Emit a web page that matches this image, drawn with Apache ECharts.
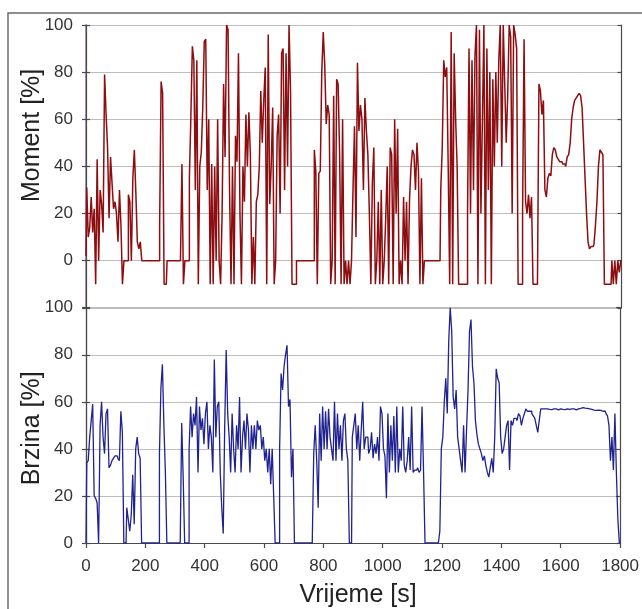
<!DOCTYPE html>
<html>
<head>
<meta charset="utf-8">
<script src="https://cdn.jsdelivr.net/npm/echarts@6/dist/echarts.min.js"></script>
<style>
html,body{margin:0;padding:0;background:#fff;}
#chart{width:642px;height:609px;}
</style>
</head>
<body>
<div id="chart"></div>
<script>
// Sampling interval of the recorded signals (seconds)
const SAMPLE_SECONDS = 5;
const xTicks = [0, 200, 400, 600, 800, 1000, 1200, 1400, 1600, 1800];
const yTicks = [0, 20, 40, 60, 80, 100];

// Moment [%] sampled every 5 s, t = 0 .. 1800
const momentVals = [
  2, 31, 10, 14, 27, 12, 22, -10, 43, 0,
  30, 24, 12, 79, 62, 48, 18, 44, 33, 22,
  25, 20, 8, 30, 15, -10, 0, 0, 0, 28,
  25, 0, 35, 47, 29, 8, 5, 8, 0, 0,
  0, 0, 0, 0, 0, 0, 0, 0, 0, 0,
  15, 76, 71, -10, -10, 0, 0, 0, 0, 0,
  0, 0, 0, 0, 0, 41, -10, 0, 0, 0,
  35, 61, 91, 85, 30, 85, -10, 40, 46, 65,
  93, 94, 30, 60, -10, 41, -10, 40, 0, 60,
  0, -10, 20, 75, 44, 100, 98, 30, -10, 40,
  -10, 53, 42, 88, 20, -10, 40, 25, 62, 40,
  63, 45, -10, 10, -10, 25, 28, 40, 72, 50,
  68, 82, -10, 96, 24, 40, 65, -10, 0, 53,
  62, 20, 88, 90, 30, 88, 40, 100, 72, -10,
  -10, -10, 0, 0, 0, 0, 0, 0, 0, 0,
  0, 0, 0, 0, 47, 38, -10, 37, 38, 80,
  97, 83, 58, 66, 62, -10, 0, 70, -10, 77,
  75, 45, -10, 60, -10, 0, -10, 0, -10, 0,
  30, 57, 10, 84, 55, 66, 60, 30, 69, 55,
  45, 20, -10, 33, 48, -10, 0, 25, -10, 30,
  -10, 0, 18, 40, -10, 48, 45, -10, 60, 20,
  56, -10, 0, -10, 27, 0, 25, -10, 26, 40,
  47, 45, 30, 50, 38, -10, 35, -10, 0, 0,
  0, 0, 0, 0, 0, 0, 0, 0, 0, 30,
  48, 85, 78, 82, 40, -10, 97, -10, 88, 60,
  40, -10, -10, -10, -10, -10, -10, 20, 90, 20,
  85, 30, 87, 100, -10, 98, 20, 60, 100, -10,
  90, 30, 80, -10, 77, 40, 80, 50, 85, 100,
  40, 100, 75, 50, 70, 100, 95, 20, 100, 96,
  90, -10, -10, -10, 20, 94, 25, 20, 28, 18,
  27, -10, -10, -10, -10, 75, 72, 62, 68, 30,
  27, 35, 37, 36, 45, 48, 47, 44, 43, 42,
  42, 41, 41, 40, 44, 45, 50, 60, 65, 68,
  69, 70, 71, 70, 65, 50, 35, 20, 8, 5,
  6, 6, 7, 15, 25, 40, 47, 46, 45, -10,
  -10, -10, -10, -10, 0, -10, 0, -10, 0, -5,
  0
];

// Brzina [%] sampled every 5 s, t = 0 .. 1800
const brzinaVals = [
  0, 34, 35, 45, 52, 59, 20, 19, 17, 0,
  50, 60, 45, 38, 55, 57, 32, 33, 35, 36,
  37, 37, 36, 35, 56, 47, 0, 0, 15, 10,
  5, 12, 29, 8, 40, 45, 38, 36, 0, 0,
  0, 0, 0, 0, 0, 0, 0, 0, 0, 0,
  38, 66, 76, 50, 30, 0, 0, 0, 0, 0,
  0, 0, 0, 0, 0, 51, 28, 0, 0, 0,
  40, 58, 45, 55, 50, 62, 30, 58, 48, 53,
  42, 55, 60, 40, 50, 45, 30, 78, 45, 58,
  60, 30, 15, 4, 50, 82, 55, 45, 30, 55,
  40, 30, 50, 40, 62, 30, 45, 52, 40, 55,
  48, 30, 50, 40, 50, 40, 52, 48, 50, 40,
  45, 35, 40, 30, 40, 25, 40, 20, 0, 0,
  0, 40, 72, 65, 75, 80, 84, 58, 61, 28,
  40, 0, 0, 0, 0, 0, 0, 0, 0, 0,
  0, 0, 0, 0, 38, 50, 35, 15, 55, 35,
  58, 40, 56, 40, 57, 45, 40, 35, 60, 35,
  55, 40, 50, 35, 52, 55, 40, 35, 0, 0,
  45, 50, 55, 40, 50, 35, 48, 60, 40, 45,
  45, 38, 40, 47, 36, 42, 38, 45, 35, 58,
  55, 40, 37, 19, 55, 30, 50, 35, 54, 30,
  58, 30, 40, 35, 58, 33, 30, 35, 45, 31,
  58, 30, 31, 31, 32, 30, 31, 58, 31, 0,
  0, 0, 0, 0, 0, 0, 0, 0, 0, 5,
  40, 45, 60, 70, 55, 86, 100, 90, 62, 57,
  65, 45, 40, 35, 30, 50, 30, 48, 65, 90,
  95, 75, 68, 52, 46, 42, 40, 38, 35, 37,
  33, 30, 28, 32, 36, 30, 45, 74, 70, 68,
  45, 38, 40, 45, 50, 52, 31, 52, 50, 53,
  53, 52, 55, 54, 50, 53, 55, 57, 56, 56,
  56, 55, 54, 53, 50, 47, 52, 57, 57, 57,
  56.5, 57, 56.8, 57, 56.7, 57, 56.8, 57, 56.6, 57,
  57, 56.8, 57, 56.7, 57, 56.5, 56.8, 57, 56.9, 57,
  56.6, 56.8, 57, 57.2, 57.4, 57.5, 57.3, 57.4, 57.2, 57,
  57, 56.8, 56.5, 56.7, 56.4, 56.5, 56.2, 56.4, 56, 56.2,
  56, 55, 54, 50, 35, 45, 31, 55, 30, 10,
  0
];

const momentData = momentVals.map((v, i) => [i * SAMPLE_SECONDS, v]);
const brzinaData = brzinaVals.map((v, i) => [i * SAMPLE_SECONDS, v]);

const FONT = 'Liberation Sans, Arial, sans-serif';
const gridLine = { show: true, lineStyle: { color: '#bdbdbd', width: 1 } };

function rightAxis(gridIndex, min, inside) {
  return {
    type: 'value', gridIndex: gridIndex, position: 'right', min: min, max: 100, interval: 20,
    axisLine: { show: true, lineStyle: { color: '#4a4a4a', width: 1.2 } },
    axisTick: { show: true, inside: inside, length: 4, lineStyle: { color: '#4a4a4a', width: 1.2 } },
    axisLabel: { show: false }, splitLine: { show: false }
  };
}

const chart = echarts.init(document.getElementById('chart'), null, { renderer: 'canvas' });
chart.setOption({
  animation: false,
  backgroundColor: '#ffffff',
  graphic: [{
    type: 'rect', silent: true,
    shape: { x: 8, y: 13, width: 700, height: 700 },
    style: { fill: 'none', stroke: '#6a6a6a', lineWidth: 1.5 }
  }],
  grid: [
    { left: 86, top: 25, width: 535.5, height: 282.8 },
    { left: 86, top: 307.7, width: 535.5, height: 235.6 }
  ],
  xAxis: [
    { type: 'value', gridIndex: 0, min: 0, max: 1800, interval: 200, show: false },
    {
      type: 'value', gridIndex: 1, min: 0, max: 1800, interval: 200,
      name: 'Vrijeme [s]', nameLocation: 'middle', nameGap: 40,
      nameTextStyle: { fontFamily: FONT, fontSize: 25, color: '#222', padding: [0, 0, 0, 10] },
      axisLine: { show: true, lineStyle: { color: '#4a4a4a', width: 1.2 } },
      axisTick: { show: true, length: 5, lineStyle: { color: '#4a4a4a', width: 1.2 } },
      axisLabel: { fontFamily: FONT, fontSize: 17, color: '#333', margin: 15,
        formatter: v => xTicks.indexOf(v) >= 0 ? String(v) : '' },
      splitLine: { show: false }
    }
  ],
  yAxis: [
    {
      type: 'value', gridIndex: 0, min: -20, max: 100, interval: 20,
      name: 'Moment [%]', nameLocation: 'middle', nameGap: 41, nameRotate: 90,
      nameMoveOverlap: false,
      nameTextStyle: { fontFamily: FONT, fontSize: 25, color: '#222', padding: [0, 0, 0, 62] },
      axisLine: { show: true, onZero: false, lineStyle: { color: '#9a70b4', width: 1.5 } },
      axisTick: { show: true, length: 4, lineStyle: { color: '#4a4a4a', width: 1.2 } },
      axisLabel: { fontFamily: FONT, fontSize: 17, color: '#333', margin: 13,
        formatter: v => yTicks.indexOf(v) >= 0 ? String(v) : '' },
      splitLine: gridLine
    },
    {
      type: 'value', gridIndex: 1, min: 0, max: 100, interval: 20,
      name: 'Brzina [%]', nameLocation: 'middle', nameGap: 41, nameRotate: 90,
      nameMoveOverlap: false,
      nameTextStyle: { fontFamily: FONT, fontSize: 25, color: '#222', padding: [0, 6, 0, 0] },
      axisLine: { show: true, onZero: false, lineStyle: { color: '#5a5a6a', width: 1.2 } },
      axisTick: { show: true, length: 4, lineStyle: { color: '#4a4a4a', width: 1.2 } },
      axisLabel: { fontFamily: FONT, fontSize: 17, color: '#333', margin: 13 },
      splitLine: gridLine
    },
    rightAxis(0, -20, false),
    rightAxis(0, -20, true),
    rightAxis(1, 0, false),
    rightAxis(1, 0, true)
  ],
  series: [
    {
      type: 'line', name: 'Moment', xAxisIndex: 0, yAxisIndex: 0,
      data: momentData, step: 'middle', showSymbol: false, symbol: 'none',
      lineStyle: { color: '#8e0d10', width: 1.5 }, z: 3
    },
    {
      type: 'line', name: 'Brzina', xAxisIndex: 1, yAxisIndex: 1,
      data: brzinaData, step: 'middle', showSymbol: false, symbol: 'none',
      lineStyle: { color: '#1f2290', width: 1.3 }, z: 3
    }
  ]
});
</script>
</body>
</html>
